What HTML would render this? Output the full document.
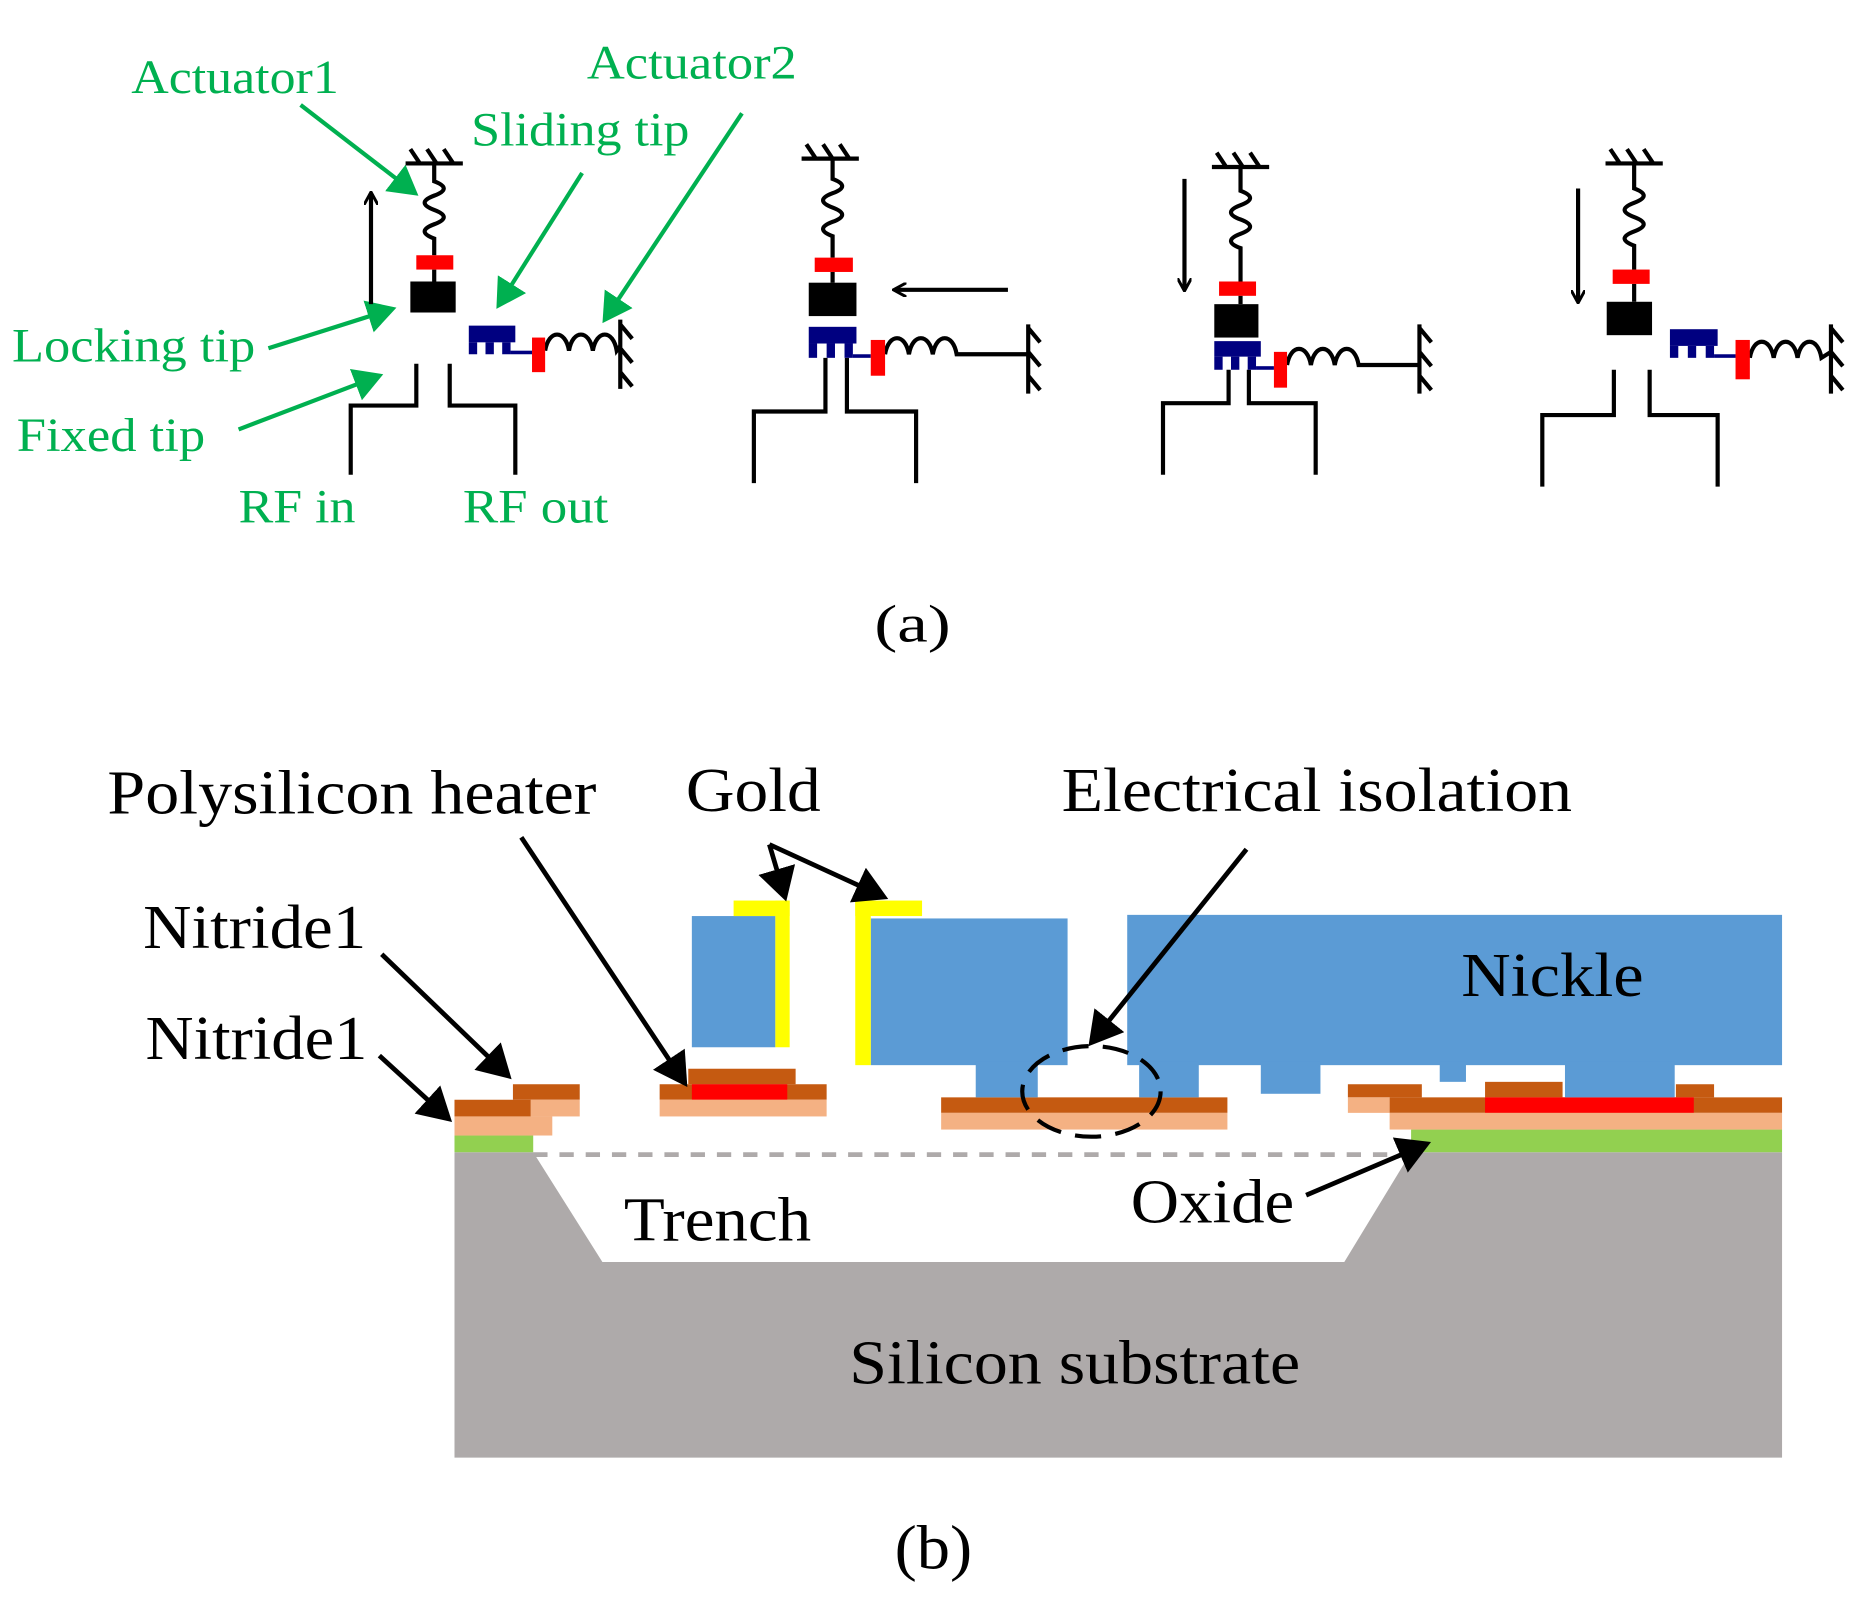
<!DOCTYPE html>
<html><head><meta charset="utf-8"><style>html,body{margin:0;padding:0;background:#fff}svg{display:block}</style></head>
<body>
<svg width="1870" height="1613" viewBox="0 0 1567.7 1352.3" xmlns="http://www.w3.org/2000/svg">
<defs>
<marker id="ga" markerWidth="8" markerHeight="8" refX="6" refY="4" orient="auto" markerUnits="strokeWidth"><path d="M0,0 L7,4 L0,8 z" fill="#00b050"/></marker>
<marker id="ka" markerWidth="8" markerHeight="8" refX="6" refY="4" orient="auto" markerUnits="strokeWidth"><path d="M0,0 L7,4 L0,8 z" fill="#000"/></marker>
<marker id="oa" markerWidth="12" markerHeight="12" refX="10" refY="6" orient="auto" markerUnits="userSpaceOnUse"><path d="M0,0 L11,6 L0,12" fill="none" stroke="#000" stroke-width="2.5"/></marker>
</defs>
<g font-family="'Liberation Serif',serif" fill="#00b050" font-size="40">
<text x="110" y="78" textLength="174" lengthAdjust="spacingAndGlyphs">Actuator1</text>
<text x="492" y="66" textLength="176" lengthAdjust="spacingAndGlyphs">Actuator2</text>
<text x="395" y="122" textLength="183" lengthAdjust="spacingAndGlyphs">Sliding tip</text>
<text x="10" y="303" textLength="204" lengthAdjust="spacingAndGlyphs">Locking tip</text>
<text x="14" y="378" textLength="158" lengthAdjust="spacingAndGlyphs">Fixed tip</text>
<text x="200" y="438" textLength="98" lengthAdjust="spacingAndGlyphs">RF in</text>
<text x="388" y="438" textLength="122" lengthAdjust="spacingAndGlyphs">RF out</text>
</g>
<g stroke="#00b050" stroke-width="3.5" fill="none" marker-end="url(#ga)">
<line x1="252" y1="88" x2="348" y2="162"/>
<line x1="488" y1="145" x2="418" y2="256"/>
<line x1="622" y1="95" x2="507" y2="268"/>
<line x1="225" y1="292" x2="329" y2="259"/>
<line x1="200" y1="360" x2="318" y2="315"/>
</g>
<g stroke="#000" stroke-width="3.5" fill="none">
<path d="M340 137 H388 M352 137 l-8 -12 M366 137 l-8 -12 M380 137 l-8 -12"/>
<path d="M364 137 V152 q16 6 0 12 q-16 6 0 12 q16 6 0 12 q-16 6 0 12 V214 M364 226 V236"/>
<path d="M311 255 V162" marker-end="url(#oa)"/>
<path d="M349 305 V340 H294 V398 M377 305 V340 H432 V398"/>
<path d="M457 294 c3 -18 17 -18 20 0 c3 -18 17 -18 20 0 c3 -18 17 -18 20 0 L520 290 M520 268 V326 M520 272 l10 12 M520 292 l10 12 M520 312 l10 12"/>
<path d="M672 133 H720 M684 133 l-8 -12 M698 133 l-8 -12 M712 133 l-8 -12"/>
<path d="M698 133 V150 q16 6 0 12 q-16 6 0 12 q16 6 0 12 q-16 6 0 12 V216 M698 228 V237"/>
<path d="M845 243 H750" marker-end="url(#oa)"/>
<path d="M692 300 V345 H632 V405 M710 300 V345 H768 V405"/>
<path d="M742 297 c3 -18 17 -18 20 0 c3 -18 17 -18 20 0 c3 -18 17 -18 20 0 H862 M862 272 V330 M862 275 l10 12 M862 295 l10 12 M862 315 l10 12"/>
<path d="M1016 140 H1064 M1028 140 l-8 -12 M1042 140 l-8 -12 M1056 140 l-8 -12"/>
<path d="M1040 140 V160 q16 6 0 12 q-16 6 0 12 q16 6 0 12 q-16 6 0 12 V236 M1040 248 V255"/>
<path d="M993 150 V243" marker-end="url(#oa)"/>
<path d="M1030 310 V338 H975 V398 M1047 310 V338 H1103 V398"/>
<path d="M1079 306 c3 -18 17 -18 20 0 c3 -18 17 -18 20 0 c3 -18 17 -18 20 0 H1190 M1190 272 V330 M1190 275 l10 12 M1190 295 l10 12 M1190 315 l10 12"/>
<path d="M1346 137 H1394 M1358 137 l-8 -12 M1372 137 l-8 -12 M1386 137 l-8 -12"/>
<path d="M1370 137 V158 q16 6 0 12 q-16 6 0 12 q16 6 0 12 q-16 6 0 12 V226 M1370 238 V253"/>
<path d="M1323 158 V253" marker-end="url(#oa)"/>
<path d="M1353 310 V348 H1293 V408 M1383 310 V348 H1440 V408"/>
<path d="M1467 300 c3 -18 17 -18 20 0 c3 -18 17 -18 20 0 c3 -18 17 -18 20 0 L1535 295 M1535 272 V330 M1535 275 l10 12 M1535 295 l10 12 M1535 315 l10 12"/>
</g>
<g>
<rect x="349" y="214" width="31" height="12" fill="#f00"/><rect x="344" y="236" width="38" height="26" fill="#000"/>
<rect x="393" y="273" width="39" height="14" fill="#000080"/><rect x="393" y="287" width="7" height="10" fill="#000080"/><rect x="407" y="287" width="7" height="10" fill="#000080"/><rect x="421" y="287" width="7" height="10" fill="#000080"/><rect x="428" y="294" width="18" height="3" fill="#000080"/>
<rect x="446" y="283" width="11" height="29" fill="#f00"/>
<rect x="683" y="216" width="32" height="12" fill="#f00"/><rect x="678" y="237" width="40" height="28" fill="#000"/>
<rect x="678" y="274" width="40" height="14" fill="#000080"/><rect x="678" y="288" width="7" height="12" fill="#000080"/><rect x="693" y="288" width="7" height="12" fill="#000080"/><rect x="708" y="288" width="7" height="12" fill="#000080"/><rect x="715" y="297" width="15" height="3" fill="#000080"/>
<rect x="730" y="285" width="12" height="30" fill="#f00"/>
<rect x="1022" y="236" width="31" height="12" fill="#f00"/><rect x="1018" y="255" width="37" height="28" fill="#000"/>
<rect x="1018" y="286" width="39" height="13" fill="#000080"/><rect x="1018" y="299" width="7" height="11" fill="#000080"/><rect x="1032" y="299" width="7" height="11" fill="#000080"/><rect x="1046" y="299" width="7" height="11" fill="#000080"/><rect x="1053" y="307" width="15" height="3" fill="#000080"/>
<rect x="1068" y="295" width="11" height="30" fill="#f00"/>
<rect x="1352" y="226" width="31" height="12" fill="#f00"/><rect x="1347" y="253" width="38" height="28" fill="#000"/>
<rect x="1400" y="276" width="40" height="14" fill="#000080"/><rect x="1400" y="290" width="7" height="10" fill="#000080"/><rect x="1415" y="290" width="7" height="10" fill="#000080"/><rect x="1430" y="290" width="7" height="10" fill="#000080"/><rect x="1437" y="297" width="18" height="3" fill="#000080"/>
<rect x="1455" y="285" width="12" height="33" fill="#f00"/>
</g>
<text x="733" y="538" font-family="'Liberation Serif',serif" font-size="44" textLength="64" lengthAdjust="spacingAndGlyphs">(a)</text>

<polygon points="381,966 447,966 505,1058 1127,1058 1183,966 1494,966 1494,1222 381,1222" fill="#aeaaaa"/>
<rect x="381" y="952" width="66" height="14" fill="#92d050"/>
<rect x="1183" y="947" width="311" height="19" fill="#92d050"/>
<line x1="447" y1="968" x2="1183" y2="968" stroke="#aeaaaa" stroke-width="4" stroke-dasharray="12 10"/>
<g>
<rect x="430" y="909" width="56" height="13" fill="#c55a11"/>
<rect x="381" y="922" width="64" height="14" fill="#c55a11"/>
<rect x="445" y="922" width="41" height="14" fill="#f4b183"/>
<rect x="381" y="936" width="82" height="16" fill="#f4b183"/>
<rect x="577" y="896" width="90" height="13" fill="#c55a11"/>
<rect x="553" y="909" width="140" height="13" fill="#c55a11"/>
<rect x="580" y="909" width="80" height="13" fill="#f00"/>
<rect x="553" y="922" width="140" height="14" fill="#f4b183"/>
<rect x="789" y="920" width="240" height="13" fill="#c55a11"/>
<rect x="789" y="933" width="240" height="14" fill="#f4b183"/>
<rect x="1130" y="909" width="62" height="11" fill="#c55a11"/>
<rect x="1130" y="920" width="35" height="13" fill="#f4b183"/>
<rect x="1165" y="920" width="329" height="13" fill="#c55a11"/>
<rect x="1245" y="907" width="65" height="13" fill="#c55a11"/>
<rect x="1405" y="909" width="32" height="11" fill="#c55a11"/>
<rect x="1245" y="920" width="175" height="13" fill="#f00"/>
<rect x="1165" y="933" width="329" height="14" fill="#f4b183"/>
</g>
<g fill="#5b9bd5">
<rect x="580" y="768" width="70" height="110"/>
<rect x="730" y="770" width="165" height="123"/>
<rect x="818" y="890" width="52" height="30"/>
<rect x="945" y="767" width="549" height="126"/>
<rect x="955" y="890" width="50" height="30"/>
<rect x="1057" y="890" width="50" height="27"/>
<rect x="1207" y="890" width="22" height="17"/>
<rect x="1312" y="890" width="92" height="30"/>
</g>
<g fill="#ffff00">
<rect x="650" y="755" width="12" height="123"/><rect x="615" y="755" width="47" height="13"/>
<rect x="717" y="755" width="13" height="138"/><rect x="717" y="755" width="56" height="13"/>
</g>
<ellipse cx="915" cy="915" rx="58" ry="38" fill="none" stroke="#000" stroke-width="3.5" stroke-dasharray="22 12"/>
<g font-family="'Liberation Serif',serif" font-size="52" fill="#000">
<text x="90" y="682" textLength="410" lengthAdjust="spacingAndGlyphs">Polysilicon heater</text>
<text x="575" y="680" textLength="113" lengthAdjust="spacingAndGlyphs">Gold</text>
<text x="890" y="680" textLength="428" lengthAdjust="spacingAndGlyphs">Electrical isolation</text>
<text x="120" y="795" textLength="187" lengthAdjust="spacingAndGlyphs">Nitride1</text>
<text x="122" y="888" textLength="186" lengthAdjust="spacingAndGlyphs">Nitride1</text>
<text x="1225" y="835" textLength="153" lengthAdjust="spacingAndGlyphs">Nickle</text>
<text x="523" y="1040" textLength="157" lengthAdjust="spacingAndGlyphs">Trench</text>
<text x="948" y="1025" textLength="137" lengthAdjust="spacingAndGlyphs">Oxide</text>
<text x="712" y="1160" textLength="378" lengthAdjust="spacingAndGlyphs">Silicon substrate</text>
<text x="750" y="1315" textLength="65" lengthAdjust="spacingAndGlyphs">(b)</text>
</g>
<g stroke="#000" stroke-width="4" fill="none" marker-end="url(#ka)">
<line x1="437" y1="702" x2="574" y2="908"/>
<line x1="645" y1="708" x2="658" y2="752"/>
<line x1="645" y1="708" x2="741" y2="752"/>
<line x1="1045" y1="712" x2="915" y2="874"/>
<line x1="320" y1="800" x2="426" y2="902"/>
<line x1="318" y1="885" x2="376" y2="938"/>
<line x1="1095" y1="1002" x2="1196" y2="959"/>
</g>
</svg>
</body></html>
